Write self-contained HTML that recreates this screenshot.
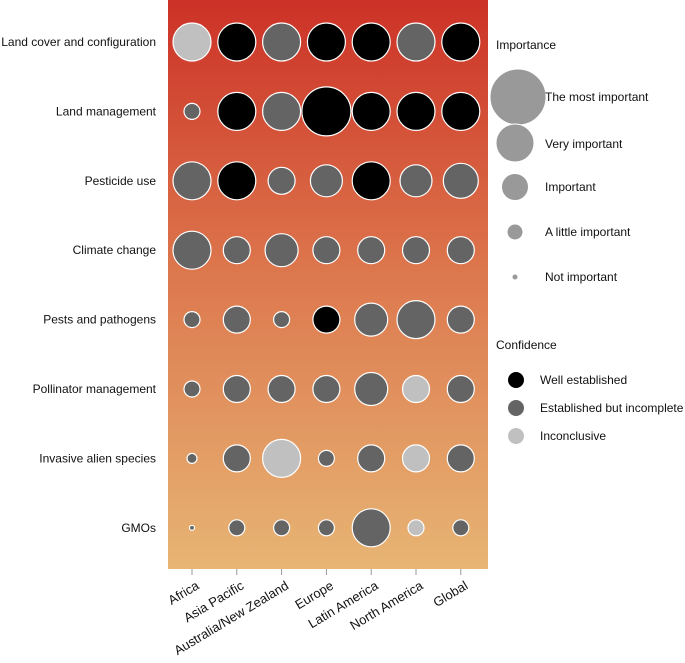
<!DOCTYPE html>
<html><head><meta charset="utf-8"><style>
body{margin:0;background:#fff;}
svg text{font-family:"Liberation Sans",Arial,sans-serif;font-size:12px;fill:#111;}
svg text.xl{font-size:13px;}
</style></head><body>
<svg id="chart" width="685" height="658" xmlns="http://www.w3.org/2000/svg">
<defs><linearGradient id="bg" x1="0" y1="0" x2="0" y2="1">
<stop offset="0" stop-color="#cc3126"/><stop offset="0.5" stop-color="#dd7a4f"/><stop offset="1" stop-color="#e7b574"/></linearGradient></defs>
<rect x="168" y="0" width="320" height="569" fill="url(#bg)"/>
<g id="marks"></g>
<g id="legend">
<text x="496" y="49">Importance</text>
<circle cx="518" cy="97" r="28" fill="#999" stroke="#fff" stroke-width="1"/>
<text x="545" y="101">The most important</text>
<circle cx="515" cy="143" r="19" fill="#999" stroke="#fff"/>
<text x="545" y="148">Very important</text>
<circle cx="515" cy="187" r="13.5" fill="#999" stroke="#fff"/>
<text x="545" y="191">Important</text>
<circle cx="515" cy="232" r="8" fill="#999" stroke="#fff"/>
<text x="545" y="236">A little important</text>
<circle cx="515" cy="277" r="2.5" fill="#999"/>
<text x="545" y="281">Not important</text>
<text x="496" y="349">Confidence</text>
<circle cx="516" cy="380" r="8.5" fill="#000" stroke="#fff"/>
<text x="540" y="384">Well established</text>
<circle cx="516" cy="408" r="8.5" fill="#646464" stroke="#fff"/>
<text x="540" y="412">Established but incomplete</text>
<circle cx="516" cy="436" r="8.5" fill="#c0c0c0" stroke="#fff"/>
<text x="540" y="440">Inconclusive</text>
</g>
</svg>
<script>
const regions=["Africa","Asia Pacific","Australia/New Zealand","Europe","Latin America","North America","Global"];
const drivers=["Land cover and configuration","Land management","Pesticide use","Climate change","Pests and pathogens","Pollinator management","Invasive alien species","GMOs"];
// importance score (bubble radius units) per driver row
const importance=[
[19,19,19,19,19,19,19],
[8,19,19,24.5,19,19,19],
[19,19,13.5,16,19,16,17.5],
[19,13.5,16.5,13.5,13.5,13.5,13.5],
[8,13.5,8,13.5,16.5,19,13.5],
[8,13.5,13.5,13.5,16.5,13.5,13.5],
[5,13.5,19,8,13.5,13.5,13.5],
[2.5,8,8,8,19,8,8]];
// confidence: 2 well established, 1 established but incomplete, 0 inconclusive
const confidence=[
[0,2,1,2,2,1,2],
[1,2,1,2,2,2,2],
[1,2,1,1,2,1,1],
[1,1,1,1,1,1,1],
[1,1,1,2,1,1,1],
[1,1,1,1,1,0,1],
[1,1,0,1,1,0,1],
[1,1,1,1,1,0,1]];
const confColors=["#c0c0c0","#646464","#000000"];
const NS="http://www.w3.org/2000/svg";
const xScale=i=>192+i*44.8;
const yScale=j=>42+j*69.4;
const rScale=v=>v;
const g=document.getElementById('marks');
function mk(t,a){const e=document.createElementNS(NS,t);for(const k in a)e.setAttribute(k,a[k]);g.appendChild(e);return e;}
drivers.forEach((d,j)=>{
  const t=mk('text',{x:156,y:yScale(j)+4,'text-anchor':'end'});t.textContent=d;
  
  
  regions.forEach((r,i)=>{
    const c=mk('circle',{cx:xScale(i),cy:yScale(j),r:rScale(importance[j][i]),fill:confColors[confidence[j][i]],stroke:'#fff','stroke-width':1.2});
    
    
  });
});
regions.forEach((r,i)=>{
  const tk=mk('line',{x1:xScale(i),x2:xScale(i),y1:569,y2:575,stroke:'#999'});
  
  
  const ax=xScale(i)+8, ay=588;
  const t=mk('text',{x:ax,y:ay,'text-anchor':'end','class':'xl',transform:`rotate(-31 ${ax} ${ay})`});
  t.textContent=r;
  
  
});
</script>
</body></html>
